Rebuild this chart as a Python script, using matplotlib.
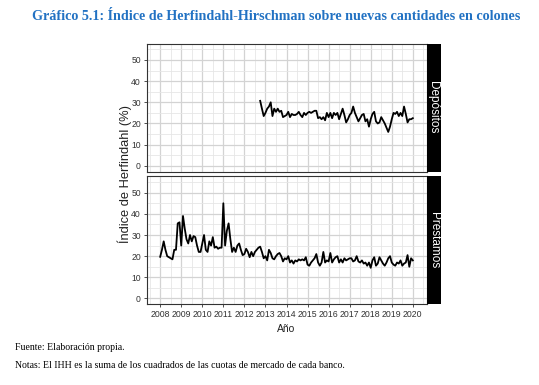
import numpy as np
import matplotlib.pyplot as plt
from matplotlib.ticker import MultipleLocator

# datos mensuales
prestamos_inicio = 2008.0
prestamos = [19.7, 23, 27, 23, 20, 19.5, 19, 18.5, 23, 23, 35.5, 36,
             25, 39, 33, 28, 26, 30, 27, 29.5, 29, 25, 22, 22,
             26, 30, 23, 22, 27, 25, 29, 24, 24.5, 23.5, 24, 24,
             45, 25, 32, 35.5, 28, 22, 24, 22, 25, 26, 23, 20.5,
             21, 23.5, 22, 19.5, 22, 20, 22, 23, 24, 24.5, 22, 19,
             20, 18, 23, 21.5, 19, 18.5, 20, 21, 21.5, 20, 17.5,
             19, 18.5, 20, 17, 18, 16.5, 18, 17.5, 18.5, 18, 18.5, 18,
             19.5, 16, 15.5, 17, 18, 19, 21, 17, 15.5, 17, 22,
             17, 18, 17.5, 21.5, 17, 18.5, 19.5, 20, 17, 18.5, 17,
             19, 18, 18.5, 19, 19, 17.5, 18, 20, 17.5, 17, 18,
             16.5, 17, 15.5, 17, 14.5, 18, 19.5, 15.5, 16.5, 19.5, 18, 16.5,
             15.5, 17, 19, 20, 17, 16, 15.5, 17, 16.5, 18, 15.5, 16.5,
             17, 20.5, 15, 19, 18]

depositos_inicio = 2012.75
depositos = [30.7, 27, 23.5, 25, 27, 28, 30, 23.5, 27, 25.5,
             27, 25.5, 26, 23, 23.5, 24, 25.5, 23, 24.5, 24,
             24, 24.5, 25.5, 24, 23, 25, 24, 25, 25.5, 25,
             25.5, 26, 26, 22.5, 23, 22, 23, 21.5, 25, 23,
             25, 22.5, 25, 24, 25, 22, 24.5, 27, 24, 20.5,
             22, 24, 25, 28, 25, 23, 21, 22.5, 24,
             24.5, 21, 22, 18.5, 22, 24.5, 25.5, 21, 20,
             20.5, 23, 21.5, 20, 18, 16, 18.5, 22, 25, 24.5,
             25.5, 23.5, 25, 23.5, 28, 24.5, 20.5, 22, 22, 22.5]

anios = list(range(2008, 2021))
paneles = ['Depósitos', 'Préstamos']

titulo = 'Gráfico 5.1: Índice de Herfindahl-Hirschman sobre nuevas cantidades en colones'
fuente = 'Fuente: Elaboración propia.'
notas = 'Notas: El IHH es la suma de los cuadrados de las cuotas de mercado de cada banco.'

NARROW = ['Liberation Sans Narrow', 'Liberation Sans', 'DejaVu Sans']
SANS = ['Liberation Sans', 'DejaVu Sans']
SERIF = ['Liberation Serif', 'DejaVu Serif']

W, H = 539, 385


def meses(inicio, valores):
    """Fechas mensuales (años decimales) para una serie"""
    return inicio + np.arange(len(valores)) / 12.0


def panel(fig, top, x, y, nombre, ultimo):
    """Un panel estilo facet de ggplot con tira a la derecha"""
    left, right, height = 146.5, 426.5, 128
    ax = fig.add_axes([left / W, (H - top - height) / H,
                       (right - left) / W, height / H])
    ax.plot(x, y, color='black', lw=1.3, zorder=3)
    ax.set_xlim(2007.35, 2020.65)
    ax.set_ylim(-2.75, 57.75)
    ax.xaxis.set_major_locator(MultipleLocator(1))
    ax.xaxis.set_minor_locator(MultipleLocator(0.5))
    ax.yaxis.set_major_locator(MultipleLocator(10))
    ax.yaxis.set_minor_locator(MultipleLocator(5))
    ax.grid(which='major', color='#d3d3d3', lw=0.9)
    ax.grid(which='minor', color='#e6e6e6', lw=0.6)
    ax.set_axisbelow(True)
    for s in ax.spines.values():
        s.set_color('#333333')
        s.set_linewidth(0.8)
    ax.tick_params(which='minor', length=0)
    ax.tick_params(which='major', length=2.5, width=0.6, color='#333333',
                   pad=1.5)
    ax.set_yticks(range(0, 60, 10))
    ax.set_yticklabels([str(v) for v in range(0, 60, 10)],
                       family=NARROW, fontsize=6.2, color='#333333')
    ax.set_xticks(anios)
    if ultimo:
        ax.set_xticklabels([str(a) for a in anios], family=NARROW,
                           fontsize=6.3, color='#333333')
    else:
        ax.set_xticklabels([])
        ax.tick_params(axis='x', length=0)
    # tira negra con el nombre del panel
    st = fig.add_axes([right / W, (H - top - height) / H, 14 / W, height / H])
    st.set_facecolor('black')
    st.set_xticks([])
    st.set_yticks([])
    for s in st.spines.values():
        s.set_visible(False)
    st.text(0.5, 0.5, nombre, rotation=-90, color='white', ha='center',
            va='center', family=SANS, fontsize=8.5, transform=st.transAxes)
    return ax


fig = plt.figure(figsize=(W / 100, H / 100), dpi=100)

panel(fig, 43.6, meses(depositos_inicio, depositos), depositos, paneles[0], False)
panel(fig, 176.3, meses(prestamos_inicio, prestamos), prestamos, paneles[1], True)

fig.text(125 / W, 1 - 174 / H, 'Índice de Herfindahl (%)', rotation=90,
         ha='center', va='center', family=SANS, fontsize=9.3, color='#222222')
fig.text(286.5 / W, 1 - 329 / H, 'Año', ha='center', va='center',
         family=NARROW, fontsize=7.5, color='#222222')

fig.text(276 / W, 1 - 17 / H, titulo, ha='center', va='center',
         family=SERIF, fontweight='bold', fontsize=10.15, color='#2272c3')
fig.text(15 / W, 1 - 348 / H, fuente, ha='left', va='center',
         family=SERIF, fontsize=7, color='black')
fig.text(15 / W, 1 - 366 / H, notas, ha='left', va='center',
         family=SERIF, fontsize=7, color='black')

fig.savefig('out.png', dpi=100)
